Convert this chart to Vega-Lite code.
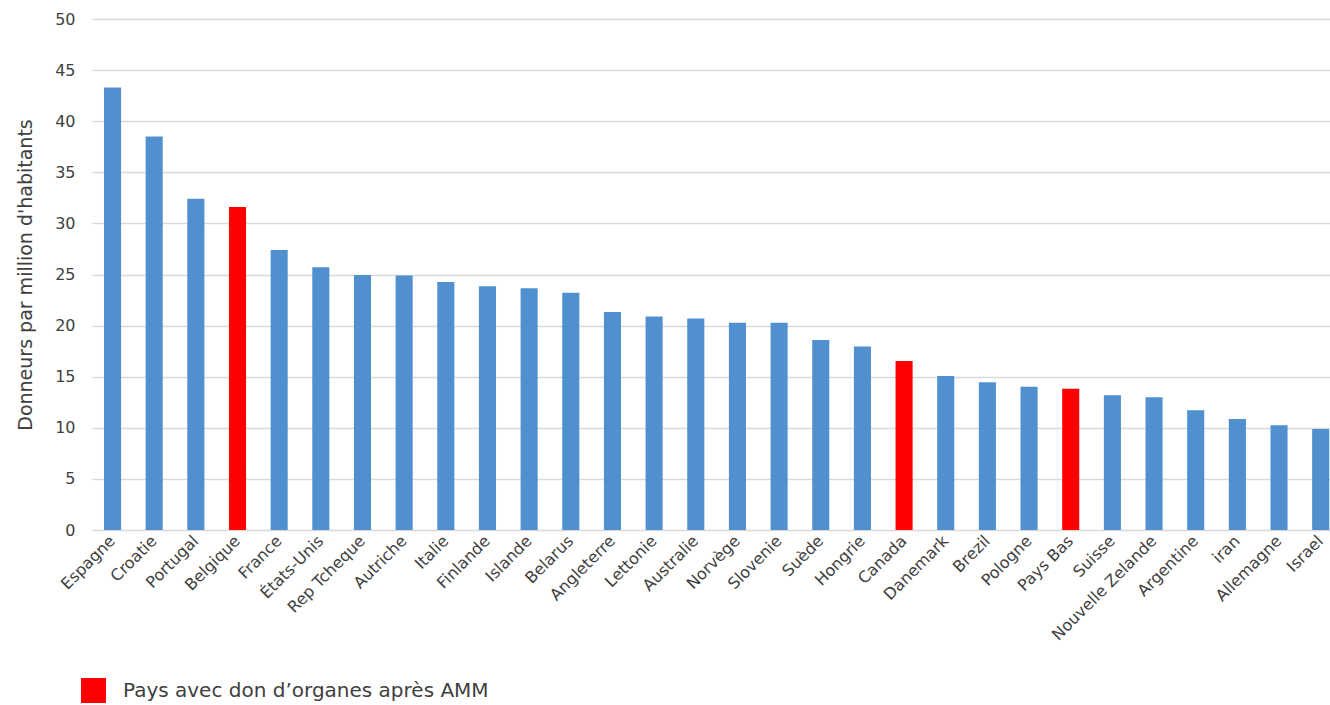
{
  "$schema": "https://vega.github.io/schema/vega-lite/v6.json",
  "autosize": "none",
  "padding": {"left": 92, "top": 19, "right": 0, "bottom": 175},
  "width": 1238,
  "height": 511,
  "background": "white",
  "data": {
    "values": [
      {"pays": "Espagne", "v": 43.3, "g": "Autres pays"},
      {"pays": "Croatie", "v": 38.5, "g": "Autres pays"},
      {"pays": "Portugal", "v": 32.4, "g": "Autres pays"},
      {"pays": "Belgique", "v": 31.6, "g": "Pays avec don d’organes après AMM"},
      {"pays": "France", "v": 27.4, "g": "Autres pays"},
      {"pays": "États-Unis", "v": 25.7, "g": "Autres pays"},
      {"pays": "Rep Tcheque", "v": 24.95, "g": "Autres pays"},
      {"pays": "Autriche", "v": 24.9, "g": "Autres pays"},
      {"pays": "Italie", "v": 24.27, "g": "Autres pays"},
      {"pays": "Finlande", "v": 23.84, "g": "Autres pays"},
      {"pays": "Islande", "v": 23.65, "g": "Autres pays"},
      {"pays": "Belarus", "v": 23.22, "g": "Autres pays"},
      {"pays": "Angleterre", "v": 21.33, "g": "Autres pays"},
      {"pays": "Lettonie", "v": 20.9, "g": "Autres pays"},
      {"pays": "Australie", "v": 20.7, "g": "Autres pays"},
      {"pays": "Norvège", "v": 20.28, "g": "Autres pays"},
      {"pays": "Slovenie", "v": 20.28, "g": "Autres pays"},
      {"pays": "Suède", "v": 18.6, "g": "Autres pays"},
      {"pays": "Hongrie", "v": 17.95, "g": "Autres pays"},
      {"pays": "Canada", "v": 16.54, "g": "Pays avec don d’organes après AMM"},
      {"pays": "Danemark", "v": 15.07, "g": "Autres pays"},
      {"pays": "Brezil", "v": 14.45, "g": "Autres pays"},
      {"pays": "Pologne", "v": 14.02, "g": "Autres pays"},
      {"pays": "Pays Bas", "v": 13.83, "g": "Pays avec don d’organes après AMM"},
      {"pays": "Suisse", "v": 13.18, "g": "Autres pays"},
      {"pays": "Nouvelle Zelande", "v": 12.98, "g": "Autres pays"},
      {"pays": "Argentine", "v": 11.71, "g": "Autres pays"},
      {"pays": "iran", "v": 10.86, "g": "Autres pays"},
      {"pays": "Allemagne", "v": 10.24, "g": "Autres pays"},
      {"pays": "Israel", "v": 9.88, "g": "Autres pays"}
    ]
  },
  "mark": {"type": "bar"},
  "encoding": {
    "x": {
      "field": "pays", "type": "nominal", "sort": null,
      "scale": {"paddingInner": 0.59, "paddingOuter": 0.153, "align": 0.94},
      "axis": {
        "title": null, "labelAngle": -45, "labelFont": "DejaVu Sans", "labelFontSize": 16,
        "labelColor": "#404040", "ticks": false, "domain": false, "grid": false,
        "labelPadding": 8, "labelOverlap": false, "labelAlign": "right", "labelBaseline": "middle", "labelLimit": 0
      }
    },
    "y": {
      "field": "v", "type": "quantitative",
      "scale": {"domain": [0, 50], "nice": false},
      "axis": {
        "title": "Donneurs par million d'habitants", "values": [0,5,10,15,20,25,30,35,40,45,50],
        "labelFont": "DejaVu Sans", "labelFontSize": 16, "labelColor": "#404040",
        "titleFont": "DejaVu Sans", "titleFontSize": 19, "titleFontWeight": "normal", "titleColor": "#404040",
        "titlePadding": 19, "labelPadding": 17,
        "ticks": false, "domain": false, "grid": true, "gridColor": "#d9d9d9", "gridWidth": 1.6
      }
    },
    "color": {
      "field": "g", "type": "nominal",
      "scale": {
        "domain": ["Pays avec don d’organes après AMM", "Autres pays"],
        "range": ["#ff0000", "#5090cf"]
      },
      "legend": {
        "title": null, "values": ["Pays avec don d’organes après AMM"],
        "orient": "none", "legendX": -11, "legendY": 659, "padding": 0,
        "symbolType": "square", "symbolSize": 625, "symbolStrokeWidth": 0, "symbolOpacity": 1,
        "labelFont": "DejaVu Sans", "labelFontSize": 20, "labelColor": "#404040", "labelOffset": 17, "labelLimit": 0
      }
    }
  },
  "config": {"view": {"stroke": null}}
}
